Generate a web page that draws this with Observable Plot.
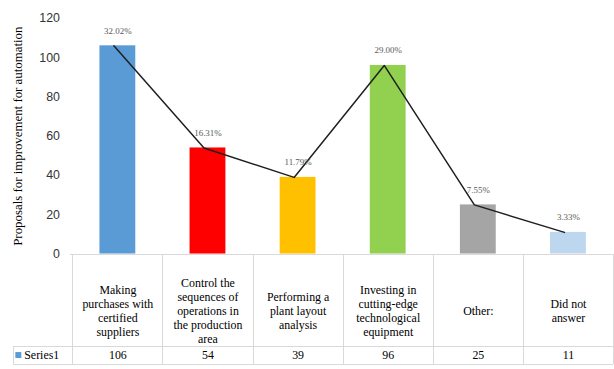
<!DOCTYPE html>
<html>
<head>
<meta charset="utf-8">
<script src="https://cdn.jsdelivr.net/npm/d3@7"></script>
<script src="https://cdn.jsdelivr.net/npm/@observablehq/plot@0.6"></script>
<style>
  html, body { margin: 0; padding: 0; background: #fff; overflow: hidden; }
  #chart svg { display: block; }
</style>
</head>
<body>
<div id="chart"></div>
<script>
// Proposals for improvement for automation (counts and shares of answers)
const categories = [
  "Making\npurchases with\ncertified\nsuppliers",
  "Control the\nsequences of\noperations in\nthe production\narea",
  "Performing a\nplant layout\nanalysis",
  "Investing in\ncutting-edge\ntechnological\nequipment",
  "Other:",
  "Did not\nanswer"
];
const series1 = [106, 54, 39, 96, 25, 11];
const shareLabels = ["32.02%", "16.31%", "11.79%", "29.00%", "7.55%", "3.33%"];
const yTicks = [0, 20, 40, 60, 80, 100, 120];
const seriesName = "Series1";
const axisTitle = "Proposals for improvement for automation";

const rows = categories.map((category, i) => ({
  category,
  value: series1[i],
  share: shareLabels[i]
}));

const serif = "'Liberation Serif', 'Times New Roman', serif";
const gridColor = "#d9d9d9";

// Excel-style data table: column lines under each category band,
// plus the legend cell on the left of the value row.
function dataTableGrid(index, scales, values, dimensions) {
  const x = scales.x;
  const bw = x.bandwidth();
  const top = dimensions.height - dimensions.marginBottom;
  const split = top + 93;
  const bottom = top + 112;
  const left = dimensions.marginLeft;
  const legendLeft = left - 58;
  const right = x(categories[categories.length - 1]) + bw;
  const edges = categories.map(c => x(c)).concat([right]);
  const g = d3.create("svg:g")
    .attr("stroke", gridColor)
    .attr("stroke-width", 1)
    .attr("fill", "none")
    .attr("shape-rendering", "crispEdges");
  g.append("line").attr("x1", left).attr("x2", right).attr("y1", top + 0.5).attr("y2", top + 0.5);
  g.append("line").attr("x1", legendLeft).attr("x2", right).attr("y1", split + 0.5).attr("y2", split + 0.5);
  g.append("line").attr("x1", legendLeft).attr("x2", right).attr("y1", bottom + 0.5).attr("y2", bottom + 0.5);
  for (const ex of edges) {
    g.append("line").attr("x1", ex + 0.5).attr("x2", ex + 0.5).attr("y1", top).attr("y2", bottom);
  }
  g.append("line").attr("x1", legendLeft + 0.5).attr("x2", legendLeft + 0.5).attr("y1", split).attr("y2", bottom);
  return g.node();
}

const chart = Plot.plot({
  width: 620,
  height: 369,
  marginLeft: 71,
  marginRight: 0,
  marginTop: 18,
  marginBottom: 113,
  style: {
    fontFamily: "'Liberation Sans', Arial, sans-serif",
    fontSize: "12.5px",
    color: "#333",
    background: "#fff"
  },
  x: { domain: categories, padding: 0, axis: null },
  y: { domain: [0, 120], ticks: yTicks, tickSize: 0, tickPadding: 11, label: null },
  color: {
    domain: categories,
    range: ["#5b9bd5", "#ff0000", "#ffc000", "#92d050", "#a5a5a5", "#bdd7ee"]
  },
  marks: [
    Plot.barY(rows, { x: "category", y: "value", fill: "category", insetLeft: 27.4, insetRight: 27.4 }),
    Plot.line(rows, { x: "category", y: "value", stroke: "#1f1f1f", strokeWidth: 1.5, dx: -4 }),
    Plot.text(rows, {
      x: "category", y: "value", text: "share", dy: -15,
      fontFamily: serif, fontSize: 9, fill: "#595959"
    }),
    // axis title
    Plot.text([axisTitle], {
      frameAnchor: "left", text: d => d, rotate: -90, dx: -53,
      textAnchor: "middle", lineAnchor: "middle",
      fontFamily: serif, fontSize: 13, fill: "#000"
    }),
    // data table
    dataTableGrid,
    Plot.text(rows, {
      x: "category", text: "category", frameAnchor: "bottom", dy: 57,
      lineAnchor: "middle", lineHeight: 1.17,
      fontFamily: serif, fontSize: 12, fill: "#000"
    }),
    Plot.text(rows, {
      x: "category", text: d => String(d.value), frameAnchor: "bottom", dy: 102,
      lineAnchor: "middle", fontFamily: serif, fontSize: 12, fill: "#000"
    }),
    Plot.dot([seriesName], {
      frameAnchor: "bottom-left", dx: -53, dy: 102,
      symbol: "square", r: 3.4, fill: "#5b9bd5", stroke: null
    }),
    Plot.text([seriesName], {
      frameAnchor: "bottom-left", text: d => d, dx: -47, dy: 102,
      textAnchor: "start", lineAnchor: "middle",
      fontFamily: serif, fontSize: 12, fill: "#000"
    })
  ]
});

document.getElementById("chart").appendChild(chart);
</script>
</body>
</html>
